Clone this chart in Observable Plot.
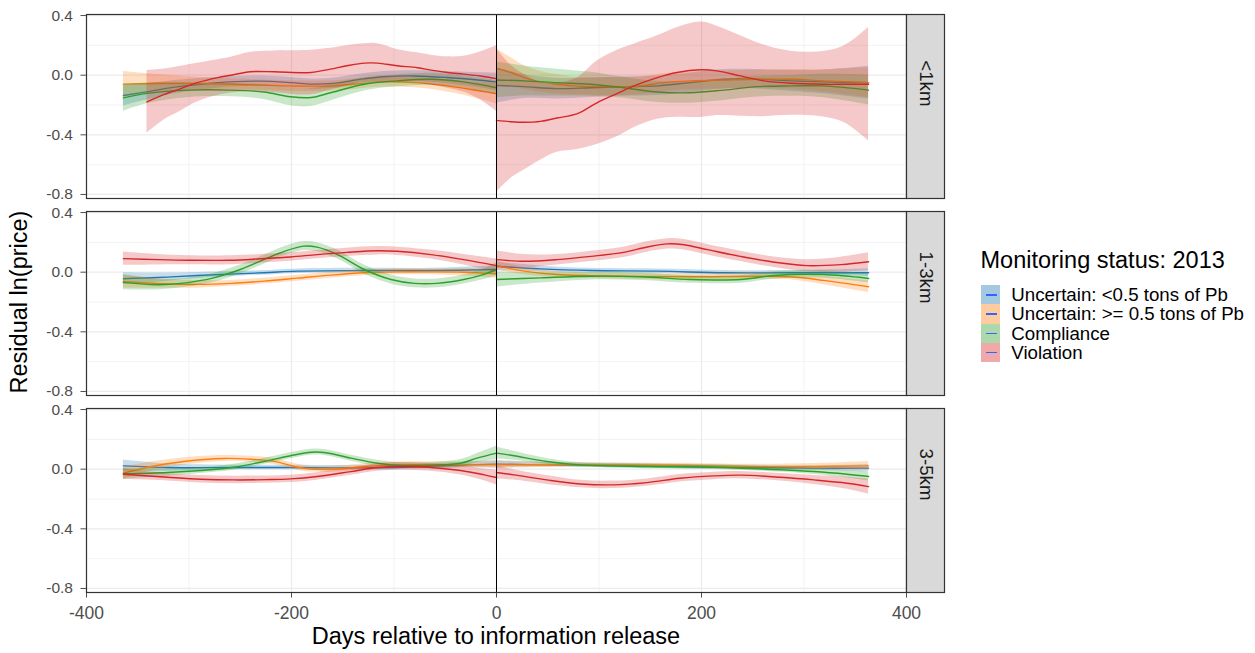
<!DOCTYPE html>
<html><head><meta charset="utf-8">
<script src="https://cdn.jsdelivr.net/npm/d3@7"></script>
<script src="https://cdn.jsdelivr.net/npm/@observablehq/plot@0.6"></script>
<style>
body{margin:0;background:#fff;font-family:"Liberation Sans",Arial,sans-serif;}
#wrap{position:relative;width:1255px;height:653px;overflow:hidden;}
#wrap svg [aria-label="y-axis tick label"]{font-size:15.5px;}
.ttl{position:absolute;white-space:nowrap;font-size:23.5px;line-height:1;color:#000;}
#ytitle{left:20px;top:302px;transform:translate(-50%,-50%) rotate(-90deg);}
#xtitle{left:496px;top:625px;transform:translateX(-50%);}
#legend{position:absolute;left:980.5px;top:248.5px;color:#000;}
#legend .lt{font-size:23.5px;line-height:1;white-space:nowrap;margin-bottom:13.2px;}
#legend .row{display:flex;align-items:center;height:19.2px;}
#legend .key{position:relative;width:19.3px;height:19.2px;}
#legend .key i{position:absolute;left:5px;right:3px;top:9px;height:1.4px;background:#3366FF;}
#legend .lab{margin-left:11.5px;font-size:18.7px;line-height:19.2px;white-space:nowrap;}
</style></head>
<body><div id="wrap"></div>
<script>
const facets = ["<1km", "1-3km", "3-5km"];
const statuses = ["Uncertain: <0.5 tons of Pb", "Uncertain: >= 0.5 tons of Pb", "Compliance", "Violation"];
const colors = ["#1f77b4", "#ff7f0e", "#2ca02c", "#d62728"];
const xTicks = [-400, -200, 0, 200, 400];
const xMinor = [-300, -100, 100, 300];
const yTicks = [0.4, 0, -0.4, -0.8];
const yMinor = [0.2, -0.2, -0.6];

// [day, smoothed residual, half-width of confidence band]
// ---- <1km ----
const near_small_pre = [[-364,-0.136,0.07],[-340,-0.11,0.055],[-314,-0.08,0.045],[-290,-0.062,0.04],[-260,-0.045,0.035],[-230,-0.04,0.035],[-200,-0.05,0.035],[-180,-0.06,0.035],[-160,-0.055,0.035],[-130,-0.025,0.035],[-110,-0.01,0.035],[-80,-0.005,0.035],[-48,-0.016,0.04],[-16,-0.034,0.05],[0,-0.045,0.06]];
const near_large_pre = [[-364,-0.06,0.085],[-330,-0.056,0.06],[-300,-0.056,0.045],[-250,-0.062,0.035],[-200,-0.072,0.035],[-160,-0.072,0.035],[-130,-0.055,0.035],[-110,-0.045,0.035],[-80,-0.05,0.035],[-48,-0.072,0.04],[-16,-0.106,0.055],[0,-0.124,0.07]];
const near_comp_pre = [[-364,-0.152,0.09],[-341,-0.122,0.07],[-300,-0.1,0.05],[-259,-0.1,0.045],[-227,-0.113,0.05],[-201,-0.145,0.06],[-181,-0.15,0.06],[-162,-0.118,0.055],[-129,-0.061,0.045],[-97,-0.038,0.04],[-64,-0.027,0.04],[-32,-0.045,0.04],[0,-0.084,0.05]];
const near_viol_pre = [[-341,-0.179,0.21],[-324,-0.129,0.17],[-308,-0.09,0.15],[-292,-0.05,0.13],[-272,-0.016,0.12],[-259,0,0.12],[-240,0.023,0.13],[-217,0.023,0.14],[-181,0.018,0.15],[-162,0.041,0.14],[-146,0.063,0.135],[-129,0.081,0.13],[-116,0.081,0.13],[-97,0.063,0.11],[-77,0.05,0.1],[-64,0.034,0.1],[-48,0.018,0.105],[-32,0.007,0.12],[-16,-0.005,0.16],[0,-0.023,0.22]];
const near_small_post = [[0,-0.068,0.12],[27,-0.077,0.08],[59,-0.09,0.07],[92,-0.084,0.065],[124,-0.077,0.065],[157,-0.072,0.065],[189,-0.05,0.065],[222,-0.027,0.065],[254,-0.027,0.065],[287,-0.038,0.07],[319,-0.045,0.08],[363,-0.05,0.11]];
const near_large_post = [[0,0.045,0.13],[14,0.018,0.1],[27,-0.016,0.08],[43,-0.045,0.07],[59,-0.061,0.065],[75,-0.072,0.06],[101,-0.077,0.06],[124,-0.077,0.06],[141,-0.072,0.06],[163,-0.05,0.06],[189,-0.038,0.06],[222,-0.032,0.06],[254,-0.027,0.06],[287,-0.027,0.065],[319,-0.038,0.075],[363,-0.05,0.1]];
const near_comp_post = [[0,-0.032,0.12],[27,-0.038,0.1],[59,-0.05,0.09],[92,-0.061,0.08],[124,-0.084,0.07],[157,-0.113,0.07],[189,-0.118,0.07],[222,-0.1,0.07],[254,-0.077,0.07],[287,-0.072,0.07],[319,-0.072,0.08],[363,-0.1,0.1]];
const near_viol_post = [[0,-0.303,0.48],[14,-0.312,0.38],[27,-0.316,0.32],[43,-0.31,0.26],[59,-0.287,0.23],[79,-0.258,0.24],[98,-0.185,0.28],[118,-0.122,0.29],[134,-0.072,0.28],[157,-0.016,0.28],[176,0.018,0.3],[199,0.036,0.32],[215,0.029,0.3],[238,-0.005,0.27],[261,-0.038,0.24],[287,-0.054,0.215],[319,-0.061,0.22],[340,-0.061,0.26],[363,-0.061,0.38]];
// ---- 1-3km ----
const mid_small_pre = [[-364,-0.044,0.04],[-330,-0.036,0.03],[-292,-0.022,0.02],[-227,-0.004,0.015],[-194,0.007,0.015],[-129,0.011,0.015],[-64,0.011,0.015],[0,0.018,0.025]];
const mid_large_pre = [[-364,-0.062,0.045],[-324,-0.078,0.03],[-292,-0.082,0.025],[-259,-0.075,0.02],[-227,-0.06,0.02],[-194,-0.04,0.02],[-162,-0.02,0.02],[-129,-0.004,0.02],[-97,0.002,0.02],[-64,0.002,0.02],[-32,0,0.025],[0,-0.01,0.03]];
const mid_comp_pre = [[-364,-0.068,0.05],[-331,-0.084,0.035],[-308,-0.075,0.03],[-276,-0.038,0.03],[-250,0.018,0.03],[-227,0.084,0.03],[-207,0.14,0.03],[-188,0.175,0.03],[-175,0.168,0.03],[-155,0.118,0.03],[-129,0.018,0.03],[-103,-0.049,0.03],[-80,-0.075,0.03],[-58,-0.075,0.03],[-32,-0.049,0.03],[-13,-0.016,0.035],[0,0.018,0.045]];
const mid_viol_pre = [[-364,0.091,0.045],[-330,0.084,0.035],[-300,0.08,0.03],[-259,0.08,0.03],[-230,0.09,0.028],[-201,0.102,0.028],[-175,0.118,0.028],[-146,0.133,0.028],[-116,0.144,0.028],[-97,0.14,0.028],[-64,0.118,0.03],[-32,0.084,0.035],[0,0.044,0.045]];
const mid_small_post = [[0,0.04,0.03],[43,0.022,0.02],[92,0.011,0.015],[157,0.007,0.015],[222,-0.004,0.015],[287,-0.004,0.015],[363,-0.004,0.025]];
const mid_large_post = [[0,0.044,0.03],[27,0.007,0.025],[59,-0.016,0.02],[124,-0.027,0.02],[189,-0.031,0.02],[254,-0.027,0.02],[287,-0.031,0.02],[319,-0.055,0.03],[363,-0.098,0.04]];
const mid_comp_post = [[0,-0.049,0.05],[43,-0.038,0.035],[92,-0.027,0.025],[141,-0.031,0.025],[189,-0.049,0.025],[238,-0.049,0.025],[271,-0.022,0.025],[319,-0.016,0.025],[363,-0.042,0.03]];
const mid_viol_post = [[0,0.084,0.06],[27,0.073,0.045],[59,0.084,0.035],[92,0.106,0.035],[124,0.133,0.035],[147,0.169,0.035],[167,0.19,0.035],[183,0.184,0.035],[206,0.151,0.035],[238,0.106,0.035],[271,0.067,0.035],[303,0.044,0.04],[336,0.051,0.05],[363,0.07,0.06]];
// ---- 3-5km ----
const far_small_pre = [[-364,0.022,0.04],[-321,0.011,0.025],[-256,0.011,0.015],[-200,0.011,0.015],[-158,0.009,0.015],[-93,0.013,0.015],[-28,0.029,0.02],[0,0.034,0.025]];
const far_large_pre = [[-364,-0.027,0.04],[-337,0.018,0.03],[-305,0.052,0.025],[-266,0.072,0.02],[-240,0.067,0.02],[-217,0.052,0.02],[-197,0.018,0.02],[-184,0.002,0.02],[-158,0,0.02],[-126,0.018,0.02],[-93,0.029,0.02],[-61,0.029,0.02],[-28,0.029,0.02],[0,0.029,0.025]];
const far_comp_pre = [[-364,-0.031,0.035],[-321,-0.022,0.025],[-289,-0.009,0.02],[-256,0.013,0.02],[-224,0.056,0.02],[-201,0.09,0.02],[-181,0.114,0.02],[-168,0.112,0.02],[-142,0.074,0.02],[-116,0.04,0.02],[-93,0.025,0.02],[-61,0.027,0.02],[-35,0.04,0.025],[-19,0.074,0.03],[0,0.108,0.045]];
const far_viol_pre = [[-364,-0.034,0.035],[-321,-0.054,0.025],[-289,-0.067,0.025],[-256,-0.072,0.025],[-224,-0.07,0.025],[-201,-0.065,0.025],[-175,-0.049,0.025],[-142,-0.016,0.025],[-116,0.011,0.025],[-93,0.018,0.025],[-67,0.013,0.025],[-35,-0.009,0.03],[-12,-0.038,0.04],[0,-0.056,0.05]];
const far_small_post = [[0,0.034,0.025],[49,0.029,0.015],[114,0.025,0.015],[179,0.018,0.015],[245,0.011,0.015],[310,0.007,0.015],[363,0.007,0.025]];
const far_large_post = [[0,0.029,0.025],[82,0.029,0.015],[179,0.025,0.015],[245,0.018,0.015],[310,0.018,0.02],[363,0.022,0.03]];
const far_comp_post = [[0,0.108,0.04],[17,0.09,0.03],[49,0.052,0.02],[82,0.029,0.015],[147,0.018,0.015],[212,0.013,0.015],[277,-0.004,0.015],[310,-0.016,0.02],[342,-0.034,0.025],[363,-0.049,0.03]];
const far_viol_post = [[0,-0.022,0.045],[17,-0.038,0.035],[49,-0.072,0.03],[82,-0.099,0.025],[114,-0.105,0.025],[147,-0.09,0.025],[179,-0.061,0.025],[212,-0.045,0.025],[238,-0.04,0.025],[277,-0.054,0.025],[310,-0.072,0.03],[342,-0.094,0.04],[363,-0.117,0.05]];

const seriesList = [
  [facets[0], statuses[0], "pre", near_small_pre], [facets[0], statuses[1], "pre", near_large_pre],
  [facets[0], statuses[2], "pre", near_comp_pre], [facets[0], statuses[3], "pre", near_viol_pre],
  [facets[0], statuses[0], "post", near_small_post], [facets[0], statuses[1], "post", near_large_post],
  [facets[0], statuses[2], "post", near_comp_post], [facets[0], statuses[3], "post", near_viol_post],
  [facets[1], statuses[0], "pre", mid_small_pre], [facets[1], statuses[1], "pre", mid_large_pre],
  [facets[1], statuses[2], "pre", mid_comp_pre], [facets[1], statuses[3], "pre", mid_viol_pre],
  [facets[1], statuses[0], "post", mid_small_post], [facets[1], statuses[1], "post", mid_large_post],
  [facets[1], statuses[2], "post", mid_comp_post], [facets[1], statuses[3], "post", mid_viol_post],
  [facets[2], statuses[0], "pre", far_small_pre], [facets[2], statuses[1], "pre", far_large_pre],
  [facets[2], statuses[2], "pre", far_comp_pre], [facets[2], statuses[3], "pre", far_viol_pre],
  [facets[2], statuses[0], "post", far_small_post], [facets[2], statuses[1], "post", far_large_post],
  [facets[2], statuses[2], "post", far_comp_post], [facets[2], statuses[3], "post", far_viol_post]
];

const rows = seriesList.flatMap(([facet, status, period, pts]) =>
  pts.map(([day, y, hw]) => ({facet, status, group: facet + "|" + status + "|" + period, day, y, lo: y - hw, hi: y + hw})));

const W = 1255, H = 653, mL = 86, mR = 349, mT = 13, mB = 61;
const panelW = W - mL - mR;
const curve = "catmull-rom";

const layerMarks = statuses.flatMap(s => {
  const d = rows.filter(r => r.status === s);
  return [
    Plot.areaY(d, {x: "day", y1: "lo", y2: "hi", z: "group", fy: "facet", fill: "status", fillOpacity: 0.25, curve}),
    Plot.line(d, {x: "day", y: "y", z: "group", fy: "facet", stroke: "status", strokeWidth: 1.4, curve})
  ];
});

const chart = Plot.plot({
  width: W, height: H,
  marginLeft: mL, marginRight: mR, marginTop: mT, marginBottom: mB,
  style: {fontFamily: "'Liberation Sans', Arial, sans-serif", fontSize: "17.5px", color: "#4d4d4d", background: "transparent", overflow: "visible"},
  x: {domain: [-400, 400], ticks: xTicks, tickFormat: d => String(d), tickSize: 5.5, tickPadding: 8.5, label: null},
  y: {domain: [-0.827, 0.407], ticks: yTicks, tickFormat: d => d.toFixed(1), tickSize: 5.5, tickPadding: 8, label: null},
  fy: {domain: facets, axis: null, paddingInner: 0.067, paddingOuter: 0},
  color: {domain: statuses, range: colors},
  marks: [
    Plot.ruleX(xMinor, {stroke: "#ebebeb", strokeWidth: 0.6}),
    Plot.ruleY(yMinor, {stroke: "#ebebeb", strokeWidth: 0.6}),
    Plot.ruleX(xTicks, {stroke: "#ebebeb", strokeWidth: 1.2}),
    Plot.ruleY(yTicks, {stroke: "#ebebeb", strokeWidth: 1.2}),
    ...layerMarks,
    Plot.ruleX([0], {stroke: "#000", strokeWidth: 1}),
    Plot.frame({stroke: "#333", strokeWidth: 1.2}),
    Plot.frame({fill: "#d9d9d9", stroke: "#333", strokeWidth: 1.2, insetLeft: panelW, insetRight: -38}),
    Plot.text(facets, {fy: d => d, text: d => d, frameAnchor: "right", dx: 19, rotate: 90, fill: "#1a1a1a", fontSize: 18.7})
  ]
});

const wrap = document.getElementById("wrap");
wrap.appendChild(chart);

const yt = document.createElement("div"); yt.className = "ttl"; yt.id = "ytitle"; yt.textContent = "Residual ln(price)"; wrap.appendChild(yt);
const xt = document.createElement("div"); xt.className = "ttl"; xt.id = "xtitle"; xt.textContent = "Days relative to information release"; wrap.appendChild(xt);

const lg = document.createElement("div"); lg.id = "legend";
const lt = document.createElement("div"); lt.className = "lt"; lt.textContent = "Monitoring status: 2013"; lg.appendChild(lt);
statuses.forEach((s, i) => {
  const row = document.createElement("div"); row.className = "row";
  const key = document.createElement("div"); key.className = "key";
  key.style.background = d3.color(colors[i]).copy({opacity: 0.4}).toString();
  key.appendChild(document.createElement("i"));
  const lab = document.createElement("div"); lab.className = "lab"; lab.textContent = s;
  row.appendChild(key); row.appendChild(lab); lg.appendChild(row);
});
wrap.appendChild(lg);
</script>
</body></html>
